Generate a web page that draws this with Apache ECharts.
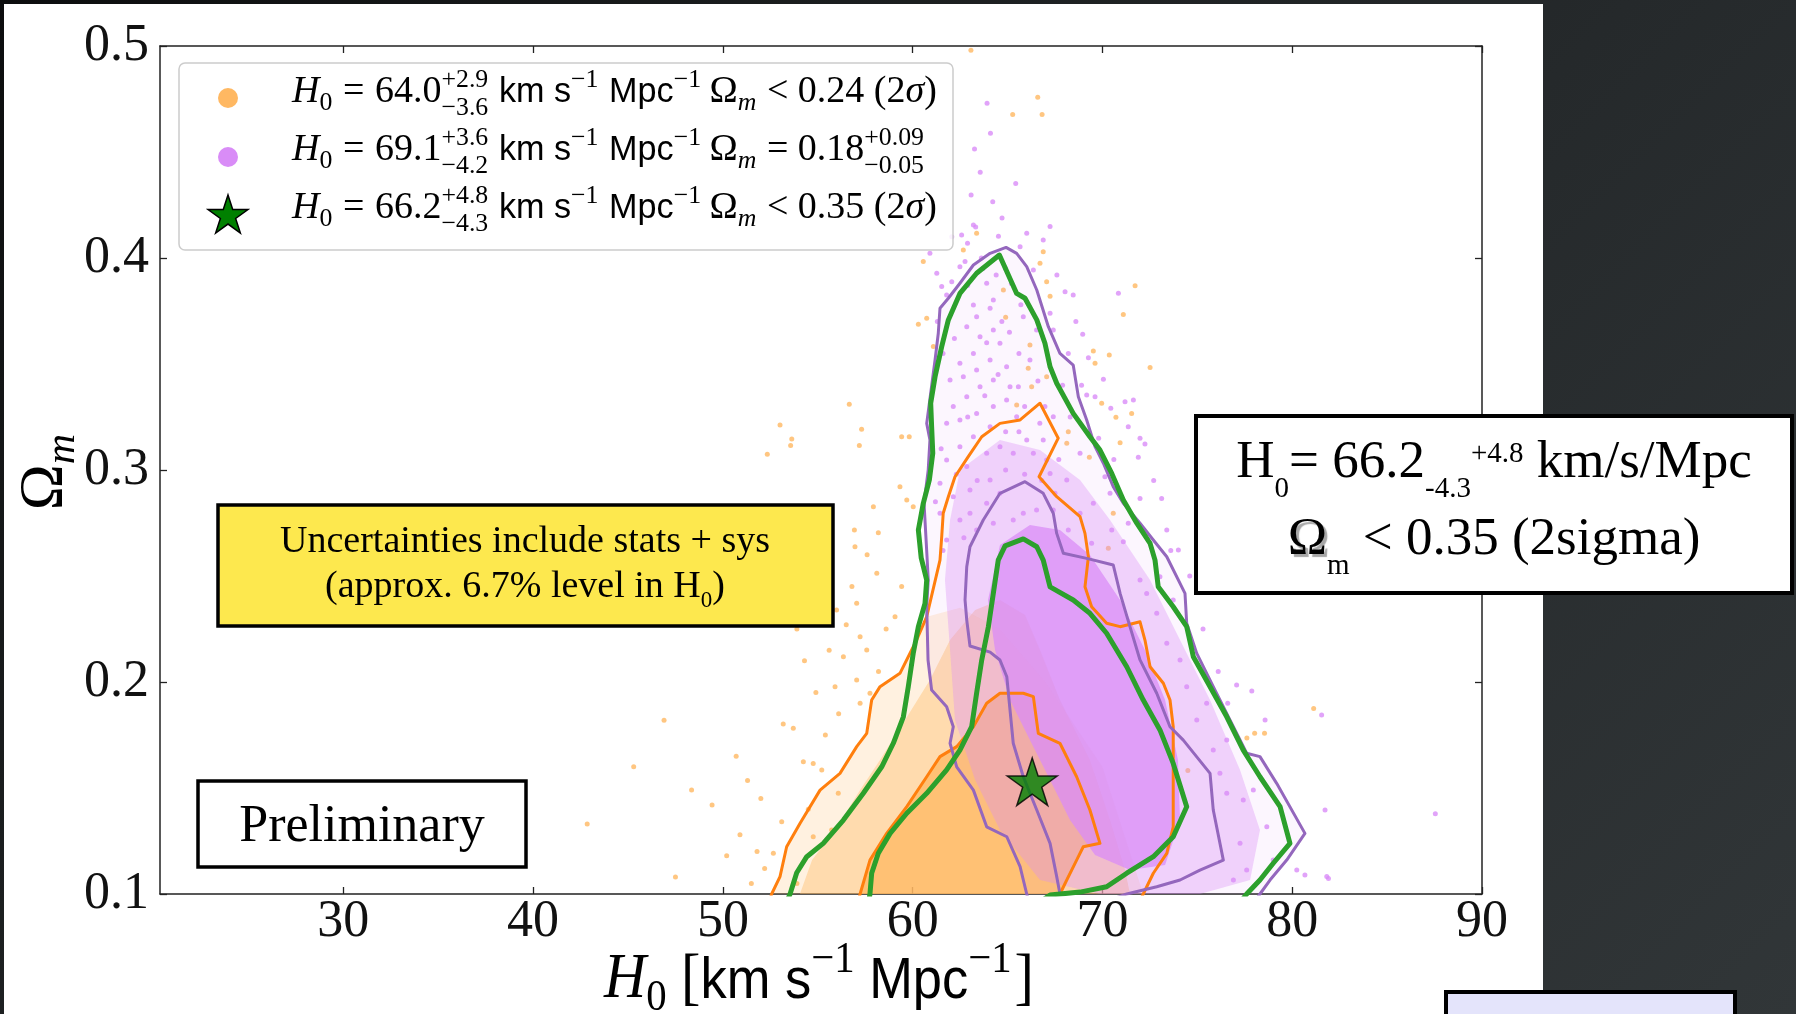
<!DOCTYPE html>
<html><head><meta charset="utf-8">
<script src="https://cdn.jsdelivr.net/npm/echarts@6/dist/echarts.min.js"></script>
<style>
html,body{margin:0;padding:0;width:1796px;height:1014px;overflow:hidden;
background:linear-gradient(135deg,#0c0d0e 0%,#1b1e1f 30%,#25292b 58%,#313638 100%);}
#slide{position:absolute;left:4px;top:4px;width:1539px;height:1010px;background:#ffffff;}
#chart{position:absolute;left:0;top:0;width:1796px;height:1014px;}
</style></head>
<body><div id="slide"></div><div id="chart"></div>
<script>
// ---------------- data ----------------
const xTicks = [30, 40, 50, 60, 70, 80, 90];
const yTicks = [0.1, 0.2, 0.3, 0.4, 0.5];
const xRange = [20.34, 90];
const yRange = [0.1, 0.5];

const greenOuter = [[53.27,0.0945],[53.54,0.100],[53.89,0.110],[54.42,0.1176],[55.29,0.1239],[56.35,0.1349],[57.40,0.1475],[58.37,0.160],[58.98,0.1711],[59.51,0.1836],[59.77,0.1978],[60.03,0.2135],[60.30,0.2261],[60.65,0.2371],[60.74,0.2481],[60.45,0.2585],[60.30,0.2717],[60.56,0.2843],[60.88,0.2953],[61.06,0.3079],[61.00,0.3204],[60.95,0.3315],[61.18,0.344],[61.53,0.3582],[61.88,0.3708],[62.49,0.3833],[63.37,0.3928],[64.57,0.4014],[65.48,0.3833],[65.92,0.381],[66.54,0.3708],[66.97,0.3598],[67.24,0.3487],[67.59,0.3409],[68.46,0.3267],[69.34,0.3157],[69.87,0.3094],[70.49,0.2984],[71.10,0.2858],[71.81,0.2749],[72.51,0.2654],[72.77,0.2575],[72.94,0.2449],[73.73,0.2355],[74.44,0.2261],[74.79,0.2119],[75.67,0.1978],[76.55,0.1836],[77.42,0.1679],[78.30,0.1553],[79.36,0.1412],[79.88,0.1239],[79.00,0.1145],[78.30,0.1066],[77.60,0.100],[77.14,0.0947]];
const greenInner = [[57.65,0.0947],[57.75,0.100],[57.84,0.1098],[58.19,0.1192],[58.81,0.1286],[59.69,0.1381],[60.74,0.1475],[61.79,0.1585],[62.49,0.1679],[63.11,0.1789],[63.37,0.1947],[63.64,0.2104],[63.99,0.2261],[64.25,0.2418],[64.51,0.2575],[64.87,0.2642],[65.83,0.2675],[66.54,0.2638],[66.88,0.2575],[67.24,0.2449],[68.46,0.2387],[69.34,0.2324],[70.22,0.223],[71.28,0.2072],[72.15,0.1915],[73.03,0.1774],[73.73,0.1616],[74.44,0.1412],[73.73,0.127],[72.68,0.1176],[71.28,0.1098],[70.22,0.1034],[68.82,0.1009],[67.24,0.0995],[66.5,0.095]];
const purpleOuter = [[66.18,0.0947],[66.01,0.100],[65.66,0.1129],[64.96,0.127],[63.90,0.1317],[63.20,0.149],[62.32,0.160],[61.97,0.1711],[62.14,0.1789],[61.79,0.1883],[61.00,0.1962],[60.81,0.2104],[60.74,0.2355],[60.82,0.2481],[60.76,0.2585],[60.60,0.2843],[60.82,0.300],[60.91,0.3142],[60.74,0.322],[60.95,0.3362],[61.18,0.3519],[61.35,0.3645],[61.44,0.3763],[61.88,0.381],[62.49,0.3881],[63.20,0.3967],[64.08,0.4022],[64.92,0.405],[65.48,0.4022],[66.01,0.3959],[66.54,0.3849],[67.15,0.3676],[67.76,0.355],[68.46,0.3495],[68.73,0.3346],[69.17,0.3236],[69.61,0.311],[70.05,0.3032],[70.57,0.2921],[71.10,0.2843],[71.98,0.2749],[72.68,0.267],[73.39,0.2591],[74.35,0.2418],[74.44,0.2277],[74.97,0.2135],[75.84,0.1978],[76.72,0.1821],[77.60,0.1664],[78.30,0.1648],[79.18,0.1522],[80.67,0.1286],[79.71,0.116],[78.83,0.1066],[78.30,0.100],[77.88,0.0947]];
const purpleInner = [[70.40,0.0972],[71.28,0.100],[72.86,0.1034],[74.09,0.1066],[75.14,0.1113],[76.37,0.116],[75.84,0.1396],[75.67,0.1569],[74.26,0.1726],[73.56,0.1789],[72.86,0.1947],[71.98,0.2104],[71.45,0.2261],[70.93,0.2418],[70.57,0.2552],[69.17,0.2583],[67.94,0.2607],[67.59,0.2701],[67.41,0.2796],[66.88,0.289],[65.92,0.2945],[64.60,0.289],[63.72,0.2764],[63.02,0.2638],[62.85,0.2544],[62.76,0.2387],[62.85,0.2292],[63.02,0.217],[64.08,0.2141],[64.60,0.2104],[64.96,0.2025],[65.13,0.1868],[65.30,0.1711],[65.83,0.1553],[66.54,0.1396],[67.24,0.1239],[67.59,0.1082],[67.76,0.1001],[67.87,0.0947]];
const orangeOuter = [[52.38,0.0947],[52.57,0.100],[53.01,0.1082],[53.36,0.1223],[54.06,0.1333],[55.12,0.149],[56.17,0.1569],[57.05,0.1695],[57.58,0.1758],[57.84,0.1915],[58.28,0.1978],[59.33,0.2041],[60.21,0.2198],[60.74,0.2308],[61.44,0.2575],[61.53,0.2685],[61.61,0.2796],[61.88,0.2874],[62.23,0.2968],[62.93,0.3063],[63.64,0.3157],[64.60,0.322],[65.66,0.3236],[66.71,0.3315],[67.67,0.315],[66.66,0.2968],[67.59,0.2874],[68.82,0.278],[69.08,0.2701],[69.26,0.2591],[69.08,0.2449],[69.43,0.2355],[70.22,0.2277],[70.93,0.2261],[71.98,0.2284],[72.24,0.2198],[72.51,0.2072],[73.21,0.1994],[73.56,0.1915],[73.73,0.1789],[73.73,0.1632],[73.73,0.1317],[73.39,0.1192],[72.68,0.1098],[72.15,0.100],[71.87,0.0947]];
const orangeInner = [[57.07,0.0947],[57.23,0.100],[57.75,0.116],[58.63,0.1286],[59.69,0.1412],[60.74,0.1553],[61.44,0.1648],[62.32,0.1695],[63.20,0.1789],[63.90,0.190],[64.60,0.1947],[65.83,0.1947],[66.36,0.1931],[66.62,0.1758],[67.76,0.1711],[68.64,0.1553],[69.34,0.1396],[69.87,0.1239],[68.99,0.1223],[68.64,0.116],[68.12,0.1066],[67.76,0.100],[67.55,0.0947]];

// density regions of the sample clouds
const orangeSparse = [[52.57,0.1],[53.01,0.1082],[53.36,0.1223],[54.06,0.1333],[55.12,0.149],[56.17,0.1569],[57.05,0.1695],[57.58,0.1758],[57.84,0.1915],[58.28,0.1978],[59.33,0.2041],[60.21,0.2198],[60.74,0.2308],[62.5,0.235],[64.6,0.225],[67.0,0.2],[70.0,0.16],[72.15,0.1]];
const orangeHalo = [[54.06,0.1],[54.70,0.116],[55.91,0.1302],[57.23,0.1491],[58.28,0.1632],[59.60,0.1821],[60.91,0.2009],[61.97,0.2198],[63.29,0.234],[64.60,0.2387],[65.92,0.2316],[66.71,0.2151],[67.76,0.1915],[69.34,0.1632],[70.40,0.1349],[71.19,0.1113],[71.45,0.1]];
const purpleHalo = [[62.49,0.300],[64.60,0.3142],[66.71,0.3094],[68.82,0.2953],[70.40,0.2764],[72.51,0.2481],[74.09,0.2198],[75.67,0.1915],[77.25,0.1585],[78.30,0.1302],[77.78,0.1066],[75.14,0.1],[69.87,0.1],[66.71,0.1066],[64.60,0.1302],[63.29,0.1538],[62.23,0.1821],[61.97,0.2151],[61.70,0.2481],[61.97,0.2764]];
const purpleCore = [[64.60,0.2646],[66.18,0.2741],[67.76,0.2717],[69.34,0.2599],[70.93,0.2387],[72.24,0.2151],[73.30,0.1915],[73.98,0.1632],[74.09,0.1349],[73.30,0.1137],[71.45,0.1113],[69.61,0.1184],[68.29,0.1349],[67.24,0.1538],[66.18,0.1726],[65.13,0.1915],[64.34,0.2151],[63.97,0.2387]];

const orangeDots = [[42.85,0.133],[46.90,0.182],[48.35,0.149],[49.43,0.142],[50.70,0.165],[51.30,0.1535],[56.50,0.227],
[53.01,0.3212],[53.63,0.3146],[53.57,0.3115],[52.34,0.3074],[56.66,0.331],[57.31,0.3192],[57.19,0.3115],[59.42,0.3157],[59.82,0.3157],[57.93,0.2827],[56.93,0.2717],[58.19,0.2704],[56.96,0.2638],[59.33,0.2921],[59.69,0.2858],[60.03,0.2827],[60.56,0.3983],[60.30,0.3687],[60.74,0.3716],[61.09,0.3582],[63.37,0.4117],[64.78,0.3849],[64.90,0.372],[66.18,0.359],[66.88,0.403],[66.71,0.3975],[67.06,0.3888],[67.24,0.382],[66.09,0.348],[66.27,0.3393],[67.06,0.344],[65.48,0.3307],[62.67,0.4038],
[71.72,0.3869],[71.10,0.3734],[70.36,0.3542],[69.61,0.3503],[69.52,0.3561],[72.51,0.3483],[69.96,0.3315],[70.71,0.3249],[71.54,0.3267],[70.93,0.3129],[69.31,0.306],[70.57,0.2796],[68.20,0.3181],[68.12,0.3126],[70.31,0.2631],
[65.27,0.4677],[66.82,0.4677],[66.59,0.4758],[63.07,0.498],
[81.13,0.1875],[78.02,0.1758],[78.54,0.1758],[77.61,0.1736],[74.50,0.1582],
[53.18,0.1802],[53.71,0.1782],[54.24,0.1624],[54.76,0.1616],[55.21,0.1585],[53.10,0.1341],[52.66,0.1192],[55.99,0.234],[57.05,0.2371],[58.11,0.2513],[59.07,0.2308],[59.42,0.245],[57.23,0.2214],[57.58,0.2151],[56.35,0.2119],[55.91,0.1978],[57.23,0.19],[57.75,0.1947],[57.05,0.2009],[55.73,0.1302],[54.76,0.127],[56.08,0.1475],
[51.8,0.12],[52.2,0.112],[51.5,0.105],[50.9,0.128],[52.0,0.145],[53.9,0.105],[54.5,0.14],[55.4,0.175],[56.1,0.185],[54.9,0.195],[55.6,0.215],[56.8,0.245],[57.6,0.26],[58.6,0.225],[58.2,0.205],[54.3,0.21],[53.9,0.225],[50.2,0.118],[47.5,0.108],[45.3,0.16]];

const purpleDots = [[61.27,0.3928],[61.53,0.3865],[61.79,0.3825],[62.06,0.3888],[62.49,0.3959],[62.76,0.3983],[62.58,0.4109],[63.20,0.4156],[62.06,0.41],[60.91,0.4022],[63.20,0.3778],[63.90,0.3881],[64.25,0.3802],[64.08,0.3763],[63.37,0.3723],[62.85,0.3676],[63.55,0.3629],[64.25,0.366],[64.60,0.3598],[63.20,0.355],[62.49,0.3503],[61.97,0.3425],[62.67,0.344],[63.37,0.3472],[64.08,0.3519],[64.95,0.3487],[65.13,0.3393],[64.25,0.3425],[63.55,0.3393],[62.85,0.3346],[62.14,0.3299],[61.79,0.322],[62.49,0.3236],[63.37,0.3267],[64.25,0.3299],[64.95,0.333],[65.48,0.3251],[64.08,0.3204],[63.20,0.3157],[62.49,0.311],[61.79,0.3047],[62.85,0.3016],[63.90,0.3079],[64.60,0.311],[65.30,0.3079],[66.01,0.3142],[66.36,0.3079],[66.88,0.3142],[67.24,0.2984],[61.44,0.2937],[62.14,0.2874],[63.02,0.2906],[64.08,0.2953],[61.44,0.2796],[62.49,0.2764],[61.79,0.267],
[67.24,0.4148],[66.88,0.4085],[66.01,0.4117],[65.66,0.4053],[66.36,0.3943],[65.83,0.3723],[66.53,0.366],[67.24,0.3739],[67.41,0.366],[66.18,0.3519],[65.57,0.3393],[66.97,0.3299],[67.41,0.3251],[67.06,0.3047],[67.41,0.2811],[66.53,0.2811],[65.83,0.2796],[65.30,0.2764],[64.25,0.2749],[63.37,0.2717],[63.02,0.2796],[63.90,0.2843],[64.60,0.289],
[63.26,0.4514],[63.56,0.4405],[64.10,0.4589],[64.22,0.4265],[63.32,0.4146],[64.52,0.4103],[62.89,0.407],[63.92,0.473],[63.08,0.4297],[64.71,0.4189],[65.43,0.4351],[63.62,0.40],
[68.03,0.3841],[68.46,0.3825],[70.84,0.3834],[68.96,0.364],[68.20,0.355],[69.26,0.353],[70.05,0.3428],[69.17,0.3354],[69.61,0.3346],[70.44,0.3291],[71.19,0.3322],[71.63,0.333],[71.36,0.3204],[71.98,0.315],[72.24,0.3123],[71.89,0.306],[73.12,0.2866],[71.98,0.2866],[70.40,0.289],[70.13,0.2968],[69.52,0.2843],[70.49,0.2717],[71.10,0.2662],[71.36,0.2749],[73.39,0.2717],[74.00,0.2623],[68.82,0.3079],[68.12,0.2953],[67.50,0.289],[68.82,0.2796],[68.20,0.2717],[69.43,0.2654],
[77.07,0.1986],[77.87,0.1958],[78.57,0.1821],[81.55,0.1844],[81.73,0.1396],[80.24,0.1113],[80.67,0.109],[81.82,0.1082],[77.42,0.1443],[77.95,0.1491],[78.66,0.1317],[79.00,0.116],[76.55,0.1726],[76.19,0.1569],[76.55,0.1475],[77.25,0.1239],[77.60,0.1113],[76.90,0.1066],[75.84,0.1679],[74.97,0.1821],[75.49,0.19],[74.44,0.1978],[74.09,0.2104],[73.39,0.2183],[72.86,0.2324],[72.33,0.2418],[71.98,0.2481],[73.73,0.2387],[73.03,0.2497],
[87.54,0.1379],[81.91,0.1073],
[64.9,0.395],[65.2,0.388],[64.4,0.392],[65.7,0.378],[65.1,0.365],[64.7,0.37],[63.9,0.36],[64.5,0.345],[65.6,0.355],[66.6,0.342],[65.9,0.33],[66.7,0.322],[65.6,0.318],[64.9,0.318],[63.8,0.335],[62.9,0.325],[61.5,0.31],[62.3,0.298],[63.4,0.295],[64.9,0.3],[65.9,0.298],[66.8,0.295],[67.7,0.305],[68.3,0.325],[68.9,0.34],[67.9,0.34],[68.6,0.37],[67.6,0.392],[61.3,0.37],[61.6,0.355],[62.2,0.362],[62.9,0.387],[63.7,0.395],[61.2,0.285],[61.6,0.262],[62.7,0.268],[69.8,0.315],[70.6,0.305],[72.7,0.295],[73.6,0.262],[74.6,0.25],[75.3,0.225],[76.1,0.205],[76.6,0.19]];

const bestFit = [[66.3, 0.153]];

const legendH0 = ['64.0', '69.1', '66.2'];
const legendH0Err = [['+2.9', '−3.6'], ['+3.6', '−4.2'], ['+4.8', '−4.3']];
const legendOm = ['< 0.24 (2σ)', '= 0.18', '< 0.35 (2σ)'];
const legendOmErr = [null, ['+0.09', '−0.05'], null];

// ---------------- styles ----------------
const SERIF = '"Liberation Serif", "Times New Roman", serif';
const SANS = '"Liberation Sans", Arial, sans-serif';
const C_OR_DOT = '#ffb862', C_PU_DOT = '#d98cf7';
const C_OR = '#ff7f0e', C_PU = '#9467bd', C_GR = '#2ca02c';
const STAR_PATH = 'path://M0,-1L0.2245,-0.309L0.9511,-0.309L0.3633,0.118L0.5878,0.809L0,0.382L-0.5878,0.809L-0.3633,0.118L-0.9511,-0.309L-0.2245,-0.309Z';

// ---------------- text layout helpers ----------------
const MC = document.createElement('canvas').getContext('2d');
function fontOf(p){ return (p.it ? 'italic ' : '') + (p.bold ? 'bold ' : '') + p.size + 'px ' + p.fam; }
function tw(p){ MC.font = fontOf(p); return MC.measureText(p.t).width; }
function midOff(p){ MC.font = fontOf(p); MC.textBaseline = 'alphabetic'; const m = MC.measureText('Hg');
  if (m.fontBoundingBoxAscent != null) return (m.fontBoundingBoxAscent - m.fontBoundingBoxDescent) / 2; return 0.34 * p.size; }
const P = (t, fam, size, o) => Object.assign({t: t, fam: fam, size: size}, o || {});
function layoutRun(pieces){
  let x = 0; const items = [];
  pieces.forEach(p => {
    if (p.stack){ let w = 0; p.stack.forEach(q => { items.push(Object.assign({}, q, {x: x})); w = Math.max(w, tw(q)); }); x += w + (p.gap || 0); }
    else { x += (p.pre || 0); items.push(Object.assign({}, p, {x: x})); x += tw(p) + (p.gap || 0); }
  });
  return {items: items, width: x};
}
function runEls(pieces, x0, base, opts){
  opts = opts || {};
  const L = layoutRun(pieces);
  let sx = x0;
  if (opts.align === 'center') sx = x0 - L.width / 2; else if (opts.align === 'right') sx = x0 - L.width;
  return L.items.map(q => ({
    type: 'text', x: sx + q.x, y: base + (q.dy || 0) - midOff(q), z: opts.z || 120, silent: true,
    style: Object.assign({text: q.t, fontFamily: q.fam, fontSize: q.size, fontStyle: q.it ? 'italic' : 'normal',
      fontWeight: q.bold ? 'bold' : 'normal', fill: q.fill || opts.fill || '#000', align: 'left', verticalAlign: 'middle'}, q.extra || {})
  }));
}
function fitSize(builder, target){ return 100 * target / layoutRun(builder(100)).width; }

// legend rows
function legendPieces(i, S){
  const sc = 0.68 * S;
  const arr = [
    P('H', SERIF, S, {it: true}),
    P('0', SERIF, sc, {dy: 0.17 * S, gap: 0.28 * S}),
    P('=', SERIF, S, {gap: 0.28 * S}),
    P(legendH0[i], SERIF, S),
    {stack: [P(legendH0Err[i][0], SERIF, sc, {dy: -0.42 * S}), P(legendH0Err[i][1], SERIF, sc, {dy: 0.3 * S})], gap: 0.28 * S},
    P('km s', SANS, 0.9 * S),
    P('−1', SERIF, sc, {dy: -0.42 * S, gap: 0.28 * S}),
    P('Mpc', SANS, 0.9 * S),
    P('−1', SERIF, sc, {dy: -0.42 * S, gap: 0.22 * S}),
    P('Ω', SERIF, S),
    P('m', SERIF, sc, {it: true, dy: 0.17 * S, gap: 0.28 * S})
  ];
  const o = legendOm[i];
  if (o.indexOf('σ') >= 0){ const parts = o.split('σ'); arr.push(P(parts[0], SERIF, S), P('σ', SERIF, S, {it: true}), P(parts[1], SERIF, S)); }
  else arr.push(P(o, SERIF, S));
  if (legendOmErr[i]) arr.push({stack: [P(legendOmErr[i][0], SERIF, sc, {dy: -0.42 * S}), P(legendOmErr[i][1], SERIF, sc, {dy: 0.3 * S})]});
  return arr;
}
const LS = fitSize(S => legendPieces(0, S), 645);
const LSY = Math.min(1.25, Math.max(1, 25 / (0.662 * LS)));
const legendBase = [105, 163, 221];
const legendSymY = [98, 157, 214];

function starPts(cx, cy, R){
  const pts = []; for (let k = 0; k < 10; k++){ const a = -Math.PI / 2 + k * Math.PI / 5; const r = k % 2 ? R * 0.382 : R; pts.push([cx + r * Math.cos(a), cy + r * Math.sin(a)]); } return pts;
}

const graphics = [];
// legend frame
graphics.push({type: 'rect', z: 110, silent: true, shape: {x: 179, y: 63, width: 774, height: 187, r: 6},
  style: {fill: 'rgba(255,255,255,0.85)', stroke: '#cccccc', lineWidth: 1.5}});
graphics.push({type: 'circle', z: 115, silent: true, shape: {cx: 228, cy: legendSymY[0], r: 10}, style: {fill: C_OR_DOT}});
graphics.push({type: 'circle', z: 115, silent: true, shape: {cx: 228, cy: legendSymY[1], r: 10}, style: {fill: C_PU_DOT}});
graphics.push({type: 'polygon', z: 115, silent: true, shape: {points: starPts(228, legendSymY[2] + 2, 21)}, style: {fill: '#008000', stroke: '#000', lineWidth: 1.5}});
for (let i = 0; i < 3; i++){
  graphics.push({type: 'group', x: 292, y: legendBase[i], scaleY: LSY, z: 120, silent: true, children: runEls(legendPieces(i, LS), 0, 0, {z: 120})});
}

// yellow note
graphics.push({type: 'rect', z: 110, silent: true, shape: {x: 218, y: 505, width: 615, height: 121}, style: {fill: '#fde84e', stroke: '#000', lineWidth: 3.5}});
runEls([P('Uncertainties include stats + sys', SERIF, 38)], 525, 555, {align: 'center'}).forEach(e => graphics.push(e));
runEls([P('(approx. 6.7% level in H', SERIF, 38), P('0', SERIF, 23, {dy: 8}), P(')', SERIF, 38)], 525, 600, {align: 'center'}).forEach(e => graphics.push(e));

// Preliminary box
graphics.push({type: 'rect', z: 110, silent: true, shape: {x: 198, y: 781, width: 328, height: 86}, style: {fill: '#fff', stroke: '#000', lineWidth: 3.5}});
runEls([P('Preliminary', SERIF, 52)], 362, 845, {align: 'center'}).forEach(e => graphics.push(e));

// result box
graphics.push({type: 'rect', z: 110, silent: true, shape: {x: 1196, y: 416, width: 596, height: 177}, style: {fill: '#fff', stroke: '#000', lineWidth: 4}});
runEls([P('H', SERIF, 53), P('0', SERIF, 29, {dy: 18}), P('= 66.2', SERIF, 53), P('-4.3', SERIF, 29, {dy: 18}), P('+4.8', SERIF, 29, {dy: -17}), P(' km/s/Mpc', SERIF, 53)],
  1494, 481, {align: 'center'}).forEach(e => graphics.push(e));
runEls([P('Ω', SERIF, 53, {extra: {textShadowColor: 'rgba(0,0,0,0.35)', textShadowOffsetX: 3, textShadowOffsetY: 3, textShadowBlur: 1}}), P('m', SERIF, 29, {dy: 18}), P(' < 0.35 (2sigma)', SERIF, 53)],
  1494, 558, {align: 'center'}).forEach(e => graphics.push(e));

// lavender box at the bottom right
graphics.push({type: 'rect', z: 130, silent: true, shape: {x: 1446, y: 992, width: 289, height: 40}, style: {fill: '#e4e4fb', stroke: '#000', lineWidth: 4}});

// axis titles
const xtPieces = S => [P('H', SERIF, S, {it: true}), P('0', SERIF, 0.7 * S, {dy: 0.17 * S, gap: 0.25 * S}), P('[', SERIF, S), P('km s', SANS, 0.9 * S),
  P('−1', SERIF, 0.7 * S, {dy: -0.42 * S, gap: 0.25 * S}), P('Mpc', SANS, 0.9 * S), P('−1', SERIF, 0.7 * S, {dy: -0.42 * S, gap: 0.05 * S}), P(']', SERIF, S)];
const XS = fitSize(xtPieces, 430);
graphics.push({type: 'group', x: 819, y: 1002, scaleY: Math.min(1.2, Math.max(1, 42 / (0.662 * XS))), z: 120, silent: true, children: runEls(xtPieces(XS), 0, 0, {align: 'center'})});
graphics.push({type: 'group', x: 66, y: 472, rotation: Math.PI / 2, z: 120, silent: true,
  children: runEls([P('Ω', SERIF, 62), P('m', SERIF, 42, {it: true, dy: 11})], 0, 0, {align: 'center'})});

// ---------------- chart ----------------
function polySeries(pts, color, opacity, z){
  return {type: 'custom', coordinateSystem: 'cartesian2d', data: pts, encode: {x: 0, y: 1}, silent: true, z: z, clip: true,
    renderItem: function(params, api){
      if (params.dataIndex !== 0) return;
      const cs = params.coordSys;
      return {type: 'polygon', shape: {points: pts.map(p => api.coord(p))}, style: {fill: color, opacity: opacity},
        clipPath: {type: 'rect', shape: {x: cs.x, y: cs.y, width: cs.width, height: cs.height}}};
    }};
}
function lineSeries(pts, color, width, z){
  return {type: 'line', data: pts, showSymbol: false, symbol: 'none', smooth: false, clip: true, silent: true, z: z,
    lineStyle: {color: color, width: width, join: 'round'}};
}
const axisLine = {show: true, onZero: false, lineStyle: {color: '#222', width: 1.5}};
const tickStyle = {color: '#222', width: 1.3};

const chart = echarts.init(document.getElementById('chart'), null, {renderer: 'canvas', width: 1796, height: 1014});
chart.setOption({
  animation: false,
  backgroundColor: 'transparent',
  grid: {left: 160, top: 46, width: 1322, height: 848, containLabel: false, outerBoundsMode: 'none'},
  xAxis: [
    {type: 'value', min: xRange[0], max: xRange[1], position: 'bottom', axisLine: axisLine,
      axisTick: {show: true, inside: true, length: 7, customValues: xTicks, lineStyle: tickStyle},
      axisLabel: {show: true, customValues: xTicks, margin: 2, fontFamily: SERIF, fontSize: 52, lineHeight: 52, color: '#111',
        formatter: v => String(Math.round(v))},
      splitLine: {show: false}},
    {type: 'value', min: xRange[0], max: xRange[1], position: 'top', axisLine: axisLine,
      axisTick: {show: true, inside: true, length: 7, customValues: xTicks, lineStyle: tickStyle},
      axisLabel: {show: false}, splitLine: {show: false}}
  ],
  yAxis: [
    {type: 'value', min: yRange[0], max: yRange[1], interval: 0.1, position: 'left', axisLine: axisLine,
      axisTick: {show: true, inside: true, length: 7, customValues: yTicks, lineStyle: tickStyle},
      axisLabel: {show: true, customValues: yTicks, margin: 11, fontFamily: SERIF, fontSize: 52, color: '#111',
        formatter: v => Number(v).toFixed(1)},
      splitLine: {show: false}},
    {type: 'value', min: yRange[0], max: yRange[1], interval: 0.1, position: 'right', axisLine: axisLine,
      axisTick: {show: true, inside: true, length: 7, customValues: yTicks, lineStyle: tickStyle},
      axisLabel: {show: false}, splitLine: {show: false}}
  ],
  series: [
    polySeries(orangeSparse, C_OR_DOT, 0.2, 1),
    polySeries(orangeHalo, C_OR_DOT, 0.4, 1),
    polySeries(orangeInner, C_OR_DOT, 0.75, 1),
    {type: 'scatter', data: orangeDots, symbol: 'circle', symbolSize: 5, itemStyle: {color: C_OR_DOT}, silent: true, z: 2},
    polySeries(purpleOuter, C_PU_DOT, 0.08, 3),
    polySeries(purpleHalo, C_PU_DOT, 0.35, 3),
    polySeries(purpleCore, C_PU_DOT, 0.75, 3),
    {type: 'scatter', data: purpleDots, symbol: 'circle', symbolSize: 5, itemStyle: {color: C_PU_DOT}, silent: true, z: 4},
    lineSeries(orangeOuter, C_OR, 3, 5),
    lineSeries(orangeInner, C_OR, 3, 5),
    lineSeries(purpleOuter, C_PU, 3, 6),
    lineSeries(purpleInner, C_PU, 3, 6),
    lineSeries(greenOuter, C_GR, 5, 7),
    lineSeries(greenInner, C_GR, 5, 7),
    {type: 'scatter', data: bestFit, symbol: STAR_PATH, symbolKeepAspect: true, symbolSize: 50, silent: true, z: 8,
      itemStyle: {color: '#008000', borderColor: '#000', borderWidth: 1.5}}
  ],
  graphic: {elements: graphics}
});
</script>
</body></html>
